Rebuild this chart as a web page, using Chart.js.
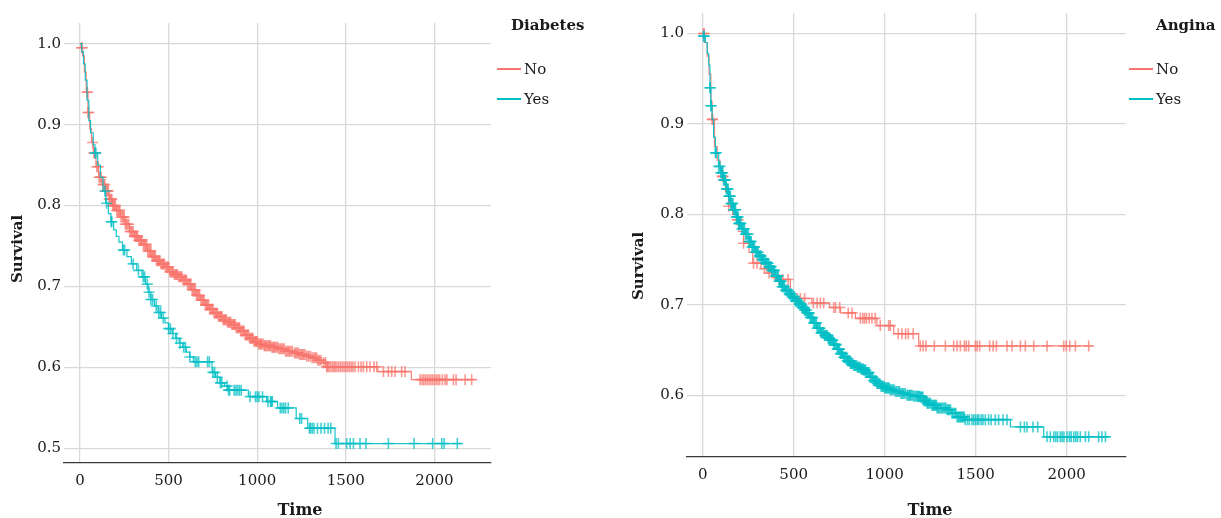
<!DOCTYPE html>
<html>
<head>
<meta charset="utf-8">
<script src="https://cdn.jsdelivr.net/npm/chart.js@4"></script>
<style>
  html, body { margin: 0; padding: 0; background: #ffffff; }
  #wrap { position: relative; width: 1221px; height: 518px; overflow: hidden; }
  canvas { position: absolute; top: 0; }
</style>
</head>
<body>
<div id="wrap">
  <canvas id="c1" width="610" height="518" style="left:0px"></canvas>
  <canvas id="c2" width="611" height="518" style="left:610px"></canvas>
</div>
<script>
// ---------- tick labels ----------
const xTicks = [0, 500, 1000, 1500, 2000];
const diabYTicks = [0.5, 0.6, 0.7, 0.8, 0.9, 1.0];
const anginaYTicks = [0.6, 0.7, 0.8, 0.9, 1.0];
const groupLabels = ['No', 'Yes'];

// ---------- Panel 1: Diabetes ----------
const diabNoTime = [0,5,15,25,35,45,55,65,75,90,105,125,145,165,185,205,230,255,280,305,330,355,380,405,430,455,480,505,530,555,580,605,630,655,680,705,730,755,780,805,830,855,880,905,930,955,980,1005,1040,1080,1120,1160,1200,1240,1280,1310,1340,1370,1390,1680,1870,2229];
const diabNoSurv = [1,0.995,0.985,0.965,0.94,0.915,0.895,0.878,0.865,0.848,0.835,0.826,0.818,0.808,0.8,0.794,0.786,0.777,0.768,0.762,0.757,0.752,0.744,0.737,0.732,0.728,0.724,0.718,0.715,0.712,0.708,0.703,0.696,0.689,0.683,0.677,0.672,0.667,0.663,0.659,0.656,0.653,0.649,0.645,0.64,0.636,0.632,0.629,0.627,0.625,0.623,0.62,0.618,0.616,0.614,0.612,0.609,0.606,0.601,0.595,0.585,0.585];
const diabNoCensTime = [10,12,40,42,45,50,72,78,85,95, 103,115,130,140,150,160,170,180,190,200, 215,225,240,250,262,275,288,300,315,325, 340,350,365,375,390,400,415,425,440,450, 465,475,490,500,515,525,540,550,565,575, 590,600,615,625,640,650,665,675,690,700, 715,725,740,750,765,775,790,800,815,825, 840,850,865,875,890,900,915,925,940,950, 965,975,990,1000,1015,1025,1040,1050,1065,1075, 1090,1100,1115,1130,1145,1160,1175,1190,1210,1225, 1240,1255,1270,1290,1300,1320,1335,1350,1375,1392, 1440,1450,1460,1470,1480,1490,1500,1510,1520,1530, 1540,1552,1571,1586,1599,1618,1636,1659,1674,1712, 1740,1759,1778,1815,1834,1919,1930,1940,1950,1960, 1970,1980,1990,2000,2010,2020,2030,2045,2060,2070, 2107,2122,2173,2210,
  108,120,135,145,155,165,175,185,195,208, 220,232,245,256,268,282,294,308,320,333, 345,358,370,383,395,408,420,433,445,458, 470,483,495,508,520,533,545,558,570,583, 595,608,620,633,645,658,670,683,695,708, 720,733,745,758,770,783,795,808,820,833, 845,858,870,883,895,908,920,933,945,958, 970,983,995,1008,1020,1033,1045,1058,1070,1083, 1095,1108,1122,1138,1152,1168,1182,1198,1218,1232, 1248,1262,1280,1310,1328,1342,1360,1385,1398,1405, 1415,1425,1433];
const diabNoCensSurv = [0.995,0.995,0.94,0.94,0.915,0.915,0.878,0.865,0.865,0.848, 0.848,0.835,0.826,0.826,0.818,0.818,0.808,0.808,0.8,0.8, 0.794,0.794,0.786,0.786,0.777,0.777,0.768,0.768,0.762,0.762, 0.757,0.757,0.752,0.752,0.744,0.744,0.737,0.737,0.732,0.732, 0.728,0.728,0.724,0.724,0.718,0.718,0.715,0.715,0.712,0.712, 0.708,0.708,0.703,0.703,0.696,0.696,0.689,0.689,0.683,0.683, 0.677,0.677,0.672,0.672,0.667,0.667,0.663,0.663,0.659,0.659, 0.656,0.656,0.653,0.653,0.649,0.649,0.645,0.645,0.64,0.64, 0.636,0.636,0.632,0.632,0.629,0.629,0.627,0.627,0.627,0.627, 0.625,0.625,0.625,0.623,0.623,0.62,0.62,0.62,0.618,0.618, 0.616,0.616,0.616,0.614,0.614,0.612,0.612,0.609,0.606,0.601, 0.601,0.601,0.601,0.601,0.601,0.601,0.601,0.601,0.601,0.601, 0.601,0.601,0.601,0.601,0.601,0.601,0.601,0.601,0.601,0.595, 0.595,0.595,0.595,0.595,0.595,0.585,0.585,0.585,0.585,0.585, 0.585,0.585,0.585,0.585,0.585,0.585,0.585,0.585,0.585,0.585, 0.585,0.585,0.585,0.585,
  0.835,0.835,0.826,0.818,0.818,0.808,0.808,0.8,0.8,0.794, 0.794,0.786,0.786,0.777,0.777,0.768,0.768,0.762,0.762,0.757, 0.757,0.752,0.752,0.744,0.744,0.737,0.737,0.732,0.732,0.728, 0.728,0.724,0.724,0.718,0.718,0.715,0.715,0.712,0.712,0.708, 0.708,0.703,0.703,0.696,0.696,0.689,0.689,0.683,0.683,0.677, 0.677,0.672,0.672,0.667,0.667,0.663,0.663,0.659,0.659,0.656, 0.656,0.653,0.653,0.649,0.649,0.645,0.645,0.64,0.64,0.636, 0.636,0.632,0.632,0.629,0.629,0.629,0.627,0.627,0.627,0.625, 0.625,0.625,0.623,0.623,0.623,0.62,0.62,0.62,0.618,0.618, 0.616,0.616,0.614,0.612,0.612,0.609,0.609,0.606,0.601,0.601, 0.601,0.601,0.601];

const diabYesTime = [0,10,20,30,40,50,60,75,85,100,115,130,145,160,175,190,205,220,240,265,290,320,350,370,385,400,420,440,460,480,500,520,540,560,580,600,620,640,745,765,790,815,835,950,1053,1115,1220,1285,1439,2157];
const diabYesSurv = [1,0.99,0.975,0.955,0.93,0.905,0.89,0.875,0.865,0.85,0.835,0.818,0.803,0.79,0.78,0.77,0.762,0.755,0.745,0.737,0.728,0.72,0.712,0.703,0.693,0.684,0.676,0.668,0.661,0.655,0.648,0.642,0.636,0.63,0.625,0.619,0.613,0.607,0.594,0.588,0.581,0.577,0.572,0.564,0.558,0.55,0.537,0.525,0.506,0.506];
const diabYesCensTime = [85,90,141,150,176,180,245,252,300,330, 357,365,380,390,400,410,430,445,455,470, 500,510,525,545,565,585,595,620,650,660, 670,720,730,750,760,775,792,800,830,838, 845,870,880,890,900,910,960,990,1000,1010, 1030,1060,1075,1080,1085,1130,1140,1150,1160,1175, 1240,1250,1295,1300,1310,1320,1340,1360,1380,1400, 1415,1445,1458,1505,1524,1543,1580,1614,1740,1885, 1990,2041,2054,2129];
const diabYesCensSurv = [0.865,0.865,0.818,0.803,0.78,0.78,0.745,0.745,0.728,0.72, 0.712,0.712,0.703,0.693,0.684,0.684,0.676,0.668,0.668,0.661, 0.648,0.648,0.642,0.636,0.63,0.625,0.625,0.613,0.607,0.607, 0.607,0.607,0.607,0.594,0.594,0.588,0.581,0.581,0.577,0.572, 0.572,0.572,0.572,0.572,0.572,0.572,0.564,0.564,0.564,0.564, 0.564,0.558,0.558,0.558,0.558,0.55,0.55,0.55,0.55,0.55, 0.537,0.537,0.525,0.525,0.525,0.525,0.525,0.525,0.525,0.525, 0.525,0.506,0.506,0.506,0.506,0.506,0.506,0.506,0.506,0.506, 0.506,0.506,0.506,0.506];

// ---------- Panel 2: Angina ----------
const anginaNoTime = [0,10,25,35,45,52,65,80,95,107,125,143,165,189,198,225,255,275,320,354,380,410,482,600,698,758,839,958,1050,1187,2143];
const anginaNoSurv = [1,0.99,0.975,0.955,0.925,0.905,0.875,0.86,0.85,0.842,0.825,0.809,0.8,0.794,0.781,0.768,0.758,0.746,0.74,0.735,0.73,0.728,0.707,0.702,0.697,0.691,0.685,0.677,0.668,0.6545,0.6545];
const anginaNoCensTime = [5,8,52,55,107,112,143,189,195,225, 280,299,340,365,420,440,470,519,537,560, 608,629,647,665,720,730,753,800,821,866, 880,890,900,915,930,948,976,1022,1031,1075, 1095,1115,1130,1157,1196,1211,1227,1273,1334,1379, 1398,1416,1438,1449,1462,1498,1508,1522,1577,1596, 1614,1672,1700,1746,1773,1819,1892,1984,1998,2017, 2048,2121];
const anginaNoCensSurv = [1,1,0.905,0.905,0.842,0.842,0.809,0.794,0.794,0.768, 0.746,0.746,0.74,0.735,0.728,0.728,0.728,0.707,0.707,0.707, 0.702,0.702,0.702,0.702,0.697,0.697,0.697,0.691,0.691,0.685, 0.685,0.685,0.685,0.685,0.685,0.685,0.677,0.677,0.677,0.668, 0.668,0.668,0.668,0.668,0.6545,0.6545,0.6545,0.6545,0.6545,0.6545, 0.6545,0.6545,0.6545,0.6545,0.6545,0.6545,0.6545,0.6545,0.6545,0.6545, 0.6545,0.6545,0.6545,0.6545,0.6545,0.6545,0.6545,0.6545,0.6545,0.6545, 0.6545,0.6545];

const anginaYesTime = [0,5,15,25,33,40,45,52,60,70,88,100,115,130,143,155,170,185,198,215,235,255,271,290,310,326,345,365,381,400,420,436,455,475,491,510,530,546,560,574,590,610,629,650,670,690,702,720,740,757,775,795,812,830,850,870,885,900,920,940,958,980,1000,1031,1060,1090,1123,1160,1196,1215,1233,1260,1288,1343,1370,1398,1443,1691,1874,2240];
const anginaYesSurv = [1,0.997,0.99,0.978,0.965,0.94,0.92,0.905,0.885,0.868,0.853,0.846,0.838,0.828,0.82,0.812,0.805,0.797,0.79,0.784,0.778,0.77,0.764,0.758,0.754,0.75,0.746,0.742,0.738,0.732,0.726,0.72,0.716,0.712,0.709,0.704,0.701,0.697,0.694,0.691,0.686,0.68,0.674,0.669,0.666,0.663,0.661,0.656,0.651,0.646,0.642,0.638,0.635,0.633,0.631,0.629,0.628,0.625,0.62,0.616,0.613,0.61,0.608,0.606,0.604,0.602,0.6,0.599,0.598,0.594,0.591,0.589,0.586,0.584,0.58,0.576,0.573,0.565,0.554,0.554];
const anginaYesCensTime = [5,8,40,42,45,47,70,75,88,95, 100,106,115,122,130,137,143,150,155,162, 170,178,185,192,198,206,215,225,235,245, 255,263,271,280,290,300,310,318,326,335, 345,355,365,373,381,390,400,410,420,428, 436,446,455,465,475,483,491,500,510,520, 530,538,546,553,560,567,574,582,590,600, 610,620,629,640,650,660,670,680,690,696, 702,711,720,730,740,748,757,766,775,785, 795,803,812,821,830,840,850,860,870,878, 885,892,900,910,920,930,940,950,958,968, 980,990,1000,1010,1020,1031,1045,1060,1075,1090, 1105,1123,1135,1145,1160,1175,1185,1196,1205,1215, 1225,1233,1245,1260,1270,1280,1288,1300,1315,1330, 1343,1355,1370,1385,1398,1410,1420,1432,1443,1455, 1465,1480,1490,1500,1510,1517,1530,1540,1553,1571, 1585,1608,1626,1650,1672,1746,1768,1782,1815,1841, 1892,1910,1929,1940,1950,1965,1975,1985,2002,2015, 2025,2039,2050,2060,2075,2103,2121,2176,2194,2213,
  103,111,118,126,133,140,147,152,159,166, 174,181,189,195,202,210,220,230,240,250, 259,267,276,285,295,305,314,322,330,340, 350,360,369,377,385,395,405,415,424,432, 441,450,460,470,479,487,495,505,515,525, 534,542,550,557,564,571,578,586,595,605, 615,625,634,645,655,665,675,685,693,699, 706,715,725,735,744,752,761,770,780,790, 799,808,816,825,835,845,855,865,874,881, 888,896,905,915,925,935,945,954,963,974, 985,995,1005,1015,1025,1037,1052,1066,1082,1097, 1113,1128,1140,1152,1167,1180,1190,1200,1210,1220, 1228,1238,1252,1265,1275,1284,1294,1308,1322,1336, 1349,1362,1376,1391,1404,1415,1426,1437];
const anginaYesCensSurv = [0.997,0.997,0.94,0.94,0.92,0.92,0.868,0.868,0.853,0.853, 0.846,0.846,0.838,0.838,0.828,0.828,0.82,0.82,0.812,0.812, 0.805,0.805,0.797,0.797,0.79,0.79,0.784,0.784,0.778,0.778, 0.77,0.77,0.764,0.764,0.758,0.758,0.754,0.754,0.75,0.75, 0.746,0.746,0.742,0.742,0.738,0.738,0.732,0.732,0.726,0.726, 0.72,0.72,0.716,0.716,0.712,0.712,0.709,0.709,0.704,0.704, 0.701,0.701,0.697,0.697,0.694,0.694,0.691,0.691,0.686,0.686, 0.68,0.68,0.674,0.674,0.669,0.669,0.666,0.666,0.663,0.663, 0.661,0.661,0.656,0.656,0.651,0.651,0.646,0.646,0.642,0.642, 0.638,0.638,0.635,0.635,0.633,0.633,0.631,0.631,0.629,0.629, 0.628,0.628,0.625,0.625,0.62,0.62,0.616,0.616,0.613,0.613, 0.61,0.61,0.608,0.608,0.608,0.606,0.606,0.604,0.604,0.602, 0.602,0.6,0.6,0.6,0.599,0.599,0.599,0.598,0.598,0.594, 0.594,0.591,0.591,0.589,0.589,0.589,0.586,0.586,0.586,0.586, 0.584,0.584,0.58,0.58,0.576,0.576,0.576,0.576,0.573,0.573, 0.573,0.573,0.573,0.573,0.573,0.573,0.573,0.573,0.573,0.573, 0.573,0.573,0.573,0.573,0.573,0.565,0.565,0.565,0.565,0.565, 0.554,0.554,0.554,0.554,0.554,0.554,0.554,0.554,0.554,0.554, 0.554,0.554,0.554,0.554,0.554,0.554,0.554,0.554,0.554,0.554,
  0.846,0.846,0.838,0.838,0.828,0.828,0.82,0.82,0.812,0.812, 0.805,0.805,0.797,0.797,0.79,0.79,0.784,0.784,0.778,0.778, 0.77,0.77,0.764,0.764,0.758,0.758,0.754,0.754,0.75,0.75, 0.746,0.746,0.742,0.742,0.738,0.738,0.732,0.732,0.726,0.726, 0.72,0.72,0.716,0.716,0.712,0.712,0.709,0.709,0.704,0.704, 0.701,0.701,0.697,0.697,0.694,0.694,0.691,0.691,0.686,0.686, 0.68,0.68,0.674,0.674,0.669,0.669,0.666,0.666,0.663,0.663, 0.661,0.661,0.656,0.656,0.651,0.651,0.646,0.646,0.642,0.642, 0.638,0.638,0.635,0.635,0.633,0.633,0.631,0.631,0.629,0.629, 0.628,0.628,0.625,0.625,0.62,0.62,0.616,0.616,0.613,0.613, 0.61,0.61,0.608,0.608,0.608,0.606,0.606,0.604,0.604,0.602, 0.602,0.6,0.6,0.6,0.599,0.599,0.599,0.598,0.598,0.594, 0.594,0.591,0.591,0.589,0.589,0.589,0.586,0.586,0.586,0.586, 0.584,0.584,0.58,0.58,0.576,0.576,0.576,0.576];

// ---------- styling ----------
const RED = '#F8766D', TEAL = '#00BFC4';
const RED_LINE = 'rgba(248,118,109,0.9)', TEAL_LINE = 'rgba(0,191,196,0.9)';
const RED_CENS = 'rgba(248,118,109,0.75)', TEAL_CENS = 'rgba(0,191,196,0.75)';
const FONT = '"DejaVu Serif", serif';
const TEXT = '#1a1a1a';

function pts(xs, ys) { return xs.map((x, i) => ({ x: x, y: ys[i] })); }

const decor = {
  id: 'decor',
  afterDraw(chart, args, o) {
    const ctx = chart.ctx;
    ctx.save();
    ctx.fillStyle = TEXT;
    ctx.save();
    ctx.font = 'bold 15px ' + FONT;
    ctx.translate(o.yTitleX, o.yTitleY);
    ctx.rotate(-Math.PI / 2);
    ctx.textAlign = 'center'; ctx.textBaseline = 'middle';
    ctx.fillText('Survival', 0, 0);
    ctx.restore();
    ctx.font = 'bold 16px ' + FONT;
    ctx.textAlign = 'center'; ctx.textBaseline = 'middle';
    ctx.fillText('Time', o.xTitleX, o.xTitleY);
    ctx.font = 'bold 15px ' + FONT;
    ctx.textAlign = 'left';
    ctx.fillText(o.legendTitle, o.legTitleX, 26);
    const cols = [RED, TEAL];
    const ys = [69, 99];
    ctx.font = '15px ' + FONT;
    for (let i = 0; i < 2; i++) {
      ctx.strokeStyle = cols[i];
      ctx.lineWidth = 2;
      ctx.beginPath();
      ctx.moveTo(o.legLineX0, ys[i]);
      ctx.lineTo(o.legLineX0 + 24, ys[i]);
      ctx.stroke();
      ctx.fillStyle = TEXT;
      ctx.fillText(groupLabels[i], o.legLineX0 + 27, ys[i] + 1);
    }
    ctx.restore();
  }
};

function makeChart(id, c) {
  return new Chart(document.getElementById(id), {
    type: 'line',
    data: {
      datasets: [
        { data: pts(c.noT, c.noS), borderColor: RED_LINE, borderWidth: 1.2, pointRadius: 0, stepped: true, fill: false, order: 4 },
        { data: pts(c.noCT, c.noCS), showLine: false, pointStyle: 'cross', pointRadius: 5.5, borderColor: RED_CENS, backgroundColor: RED_CENS, pointBorderWidth: 1.6, order: 3 },
        { data: pts(c.yesT, c.yesS), borderColor: TEAL_LINE, borderWidth: 1.2, pointRadius: 0, stepped: true, fill: false, order: 2 },
        { data: pts(c.yesCT, c.yesCS), showLine: false, pointStyle: 'cross', pointRadius: 5.5, borderColor: TEAL_CENS, backgroundColor: TEAL_CENS, pointBorderWidth: 1.6, order: 1 }
      ]
    },
    options: {
      animation: false, responsive: false, devicePixelRatio: 1,
      layout: { padding: { top: c.padTop, right: c.padRight, left: 0, bottom: 0 } },
      plugins: { legend: { display: false }, tooltip: { enabled: false }, decor: c.decor },
      scales: {
        x: {
          type: 'linear', min: c.xMin, max: c.xMax,
          afterBuildTicks: s => { s.ticks = xTicks.map(v => ({ value: v })); },
          afterFit: s => { s.height = c.xAxisH; },
          grid: { color: '#d9d9d9', lineWidth: 1.3, drawTicks: false },
          border: { display: true, color: '#3a3a3a', width: 1.3 },
          ticks: { font: { family: FONT, size: 15 }, color: TEXT, padding: 9, maxRotation: 0, autoSkip: false, callback: v => String(v) }
        },
        y: {
          type: 'linear', min: c.yMin, max: c.yMax,
          afterBuildTicks: s => { s.ticks = c.yTicks.map(v => ({ value: v })); },
          afterFit: s => { s.width = c.yAxisW; },
          grid: { color: '#d9d9d9', lineWidth: 1.3, drawTicks: false },
          border: { display: false },
          ticks: { font: { family: FONT, size: 15 }, color: TEXT, padding: 3, autoSkip: false, callback: v => Number(v).toFixed(1) }
        }
      }
    },
    plugins: [decor]
  });
}

makeChart('c1', {
  noT: diabNoTime, noS: diabNoSurv, noCT: diabNoCensTime, noCS: diabNoCensSurv,
  yesT: diabYesTime, yesS: diabYesSurv, yesCT: diabYesCensTime, yesCS: diabYesCensSurv,
  xMin: -90, xMax: 2319, yMin: 0.482, yMax: 1.0256, yTicks: diabYTicks,
  padTop: 23, padRight: 119, xAxisH: 55, yAxisW: 64,
  decor: { yTitleX: 18, yTitleY: 249, xTitleX: 300, xTitleY: 511, legendTitle: 'Diabetes', legTitleX: 511, legLineX0: 497 }
});

makeChart('c2', {
  noT: anginaNoTime, noS: anginaNoSurv, noCT: anginaNoCensTime, noCS: anginaNoCensSurv,
  yesT: anginaYesTime, yesS: anginaYesSurv, yesCT: anginaYesCensTime, yesCS: anginaYesCensSurv,
  xMin: -86, xMax: 2326, yMin: 0.5317, yMax: 1.0226, yTicks: anginaYTicks,
  padTop: 13, padRight: 95, xAxisH: 61, yAxisW: 77,
  decor: { yTitleX: 29, yTitleY: 266, xTitleX: 320, xTitleY: 511, legendTitle: 'Angina', legTitleX: 546, legLineX0: 519 }
});
</script>
</body>
</html>
